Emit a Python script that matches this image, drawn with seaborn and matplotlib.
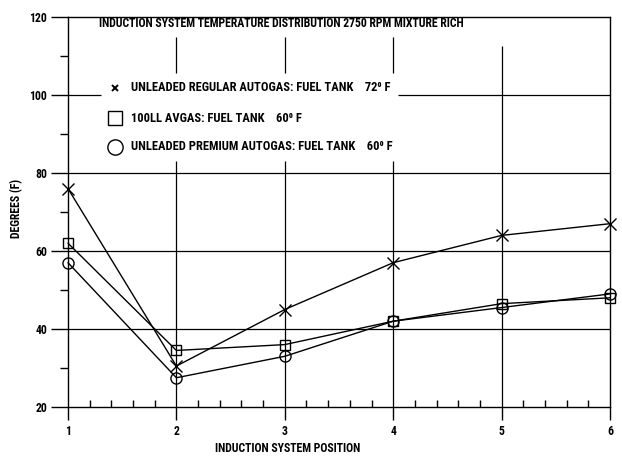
import matplotlib
matplotlib.use('Agg')
import matplotlib.pyplot as plt
import seaborn as sns
import pandas as pd
from matplotlib.ticker import MultipleLocator, FixedLocator

positions = [1, 2, 3, 4, 5, 6]
regular_autogas = [76, 30.5, 45, 57, 64, 67]
avgas_100ll = [62, 34.5, 36, 42, 46.5, 48]
premium_autogas = [57, 27.5, 33, 42, 45.5, 49]
legend_labels = [
    "UNLEADED REGULAR AUTOGAS: FUEL TANK    72\u2070 F",
    "100LL AVGAS: FUEL TANK    60\u2070 F",
    "UNLEADED PREMIUM AUTOGAS: FUEL TANK    60\u2070 F",
]
title = "INDUCTION SYSTEM TEMPERATURE DISTRIBUTION 2750 RPM MIXTURE RICH"
x_label = "INDUCTION SYSTEM POSITION"
y_label = "DEGREES (F)"
y_ticks = [20, 40, 60, 80, 100, 120]

sns.set_theme(style='white')
plt.rcParams['font.family'] = ['Roboto Condensed', 'DejaVu Sans']
plt.rcParams['font.weight'] = 'bold'
plt.rcParams['text.color'] = 'black'
plt.rcParams['axes.labelcolor'] = 'black'
plt.rcParams['xtick.color'] = 'black'
plt.rcParams['ytick.color'] = 'black'

fig = plt.figure(figsize=(6.22, 4.58), dpi=100)
ax = fig.add_axes([68/622, 1-407/458, 542/622, 390/458])

df = pd.DataFrame({'pos': positions, 'reg': regular_autogas,
                   'av': avgas_100ll, 'prem': premium_autogas})

common = dict(color='black', linewidth=1.0, ax=ax, markerfacecolor='none',
              markeredgecolor='black', markeredgewidth=1.0, clip_on=False)
sns.lineplot(data=df, x='pos', y='reg', marker='x', markersize=8, **common)
sns.lineplot(data=df, x='pos', y='av', marker='s', markersize=6.5, **common)
sns.lineplot(data=df, x='pos', y='prem', marker='o', markersize=8, **common)

ax.set_xlim(1, 6)
ax.set_ylim(20, 120)

# grid lines with gaps as in reference
gl = dict(color='black', linewidth=0.9, zorder=0)
for yv in [40, 60, 80]:
    ax.hlines(yv, 1, 6, **gl)
ax.hlines(100, 1, 1.30, **gl)
ax.hlines(100, 4.04, 6, **gl)
for xv in [2, 3, 4]:
    ax.vlines(xv, 105.6, 114.8, **gl)
    ax.vlines(xv, 20, 83.0, **gl)
ax.vlines(5, 20, 112.5, **gl)

for s in ax.spines.values():
    s.set_color('black')
    s.set_linewidth(1.0)

ax.yaxis.set_major_locator(FixedLocator(y_ticks))
ax.yaxis.set_minor_locator(MultipleLocator(10))
ax.xaxis.set_major_locator(FixedLocator(positions))
ax.xaxis.set_minor_locator(MultipleLocator(0.2))
ax.tick_params(axis='y', which='major', direction='out', length=12, width=1,
               color='black', labelcolor='black', labelsize=8.5, pad=3, left=True)
ax.tick_params(axis='y', which='minor', direction='out', length=6, width=1,
               color='black', left=True)
ax.tick_params(axis='x', which='major', direction='out', length=9, width=1,
               color='black', labelcolor='black', labelsize=8.5, pad=4, bottom=True)
ax.tick_params(axis='x', which='minor', direction='in', length=5, width=1,
               color='black', bottom=True)
for lab in ax.get_xticklabels() + ax.get_yticklabels():
    lab.set_fontweight('bold')

ax.set_xlabel(x_label, fontsize=8.5, fontweight='bold', color='black')
ax.xaxis.set_label_coords(0.405, -0.09)
ax.set_ylabel(y_label, fontsize=8.5, fontweight='bold', color='black')
ax.yaxis.set_label_coords(-0.082, 0.51)

ax.text(2.97, 118.3, title, ha='center', va='center', fontsize=8.5,
        fontweight='bold', color='black')

# legend drawn inside plot
mk = dict(color='black', markerfacecolor='none', markeredgecolor='black',
          linestyle='none', clip_on=False)
ax.plot([1.435], [101.8], marker='x', markersize=5, markeredgewidth=1.4, **mk)
ax.plot([1.435], [94.1], marker='s', markersize=10, markeredgewidth=1.0, **mk)
ax.plot([1.435], [86.7], marker='o', markersize=11, markeredgewidth=1.0, **mk)
for yv, lab in zip([101.8, 94.1, 86.7], legend_labels):
    ax.text(1.58, yv, lab, ha='left', va='center', fontsize=9,
            fontweight='bold', color='black')

fig.savefig('out.png', dpi=100)
